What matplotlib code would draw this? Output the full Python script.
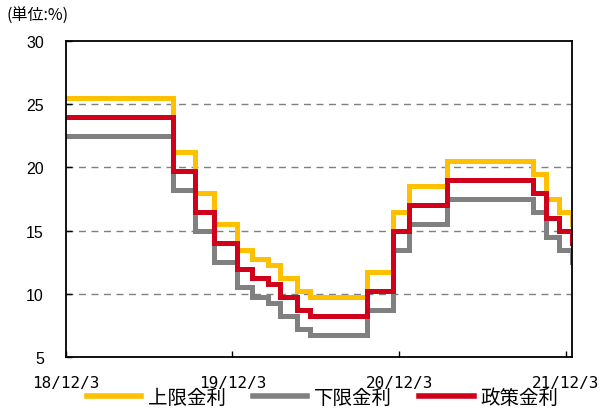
"""Turkey policy rate corridor, step chart."""

import matplotlib
import numpy as np
import pandas as pd

matplotlib.use("Agg")
import matplotlib.pyplot as plt

plt.rcParams["font.family"] = ["Noto Sans CJK JP", "DejaVu Sans"]

# step change dates and values (%)
dates = ["2018-12-03", "2019-07-25", "2019-09-12", "2019-10-24", "2019-12-12",
         "2020-01-16", "2020-02-19", "2020-03-17", "2020-04-22", "2020-05-21",
         "2020-09-24", "2020-11-19", "2020-12-24", "2021-03-18", "2021-09-23",
         "2021-10-21", "2021-11-18", "2021-12-16", "2021-12-17"]
upper = [25.5, 21.25, 18.0, 15.5, 13.5, 12.75, 12.25, 11.25, 10.25, 9.75,
         11.75, 16.5, 18.5, 20.5, 19.5, 17.5, 16.5, 15.5, 15.5]
lower = [22.5, 18.25, 15.0, 12.5, 10.5, 9.75, 9.25, 8.25, 7.25, 6.75,
         8.75, 13.5, 15.5, 17.5, 16.5, 14.5, 13.5, 12.5, 12.5]
policy = [24.0, 19.75, 16.5, 14.0, 12.0, 11.25, 10.75, 9.75, 8.75, 8.25,
          10.25, 15.0, 17.0, 19.0, 18.0, 16.0, 15.0, 14.0, 14.0]

tick_dates = ["2018-12-03", "2019-12-03", "2020-12-03", "2021-12-03"]
tick_labels = ["18/12/3", "19/12/3", "20/12/3", "21/12/3"]
series_names = ["上限金利", "下限金利", "政策金利"]
colors = ["#FFC000", "#808080", "#D0021B"]

x = pd.to_datetime(dates)

fig = plt.figure(figsize=(6.03, 4.14), dpi=100)
ax = fig.add_axes([0.1095, 0.1353, 0.8391, 0.7633])

for vals, name, c in zip([upper, lower, policy], series_names, colors):
    ax.step(x, vals, where="post", color=c, lw=3.6, label=name,
            solid_joinstyle="miter")

ax.set_xlim(pd.Timestamp("2018-12-03"), pd.Timestamp("2021-12-17"))
ax.set_ylim(5, 30)
ax.set_yticks(np.arange(5, 31, 5))
ax.set_yticklabels([str(v) for v in range(5, 31, 5)], family="Liberation Sans",
                   fontsize=11.5)
ax.set_xticks(pd.to_datetime(tick_dates))
ax.set_xticklabels(tick_labels, family="DejaVu Sans Mono", fontsize=11.5)
ax.tick_params(direction="in", length=4, width=1)
ax.tick_params(axis="y", pad=16)
ax.tick_params(axis="x", pad=13)

for yv in [10, 15, 20, 25]:
    ax.axhline(yv, color="#808080", lw=1, ls=(0, (5, 4)), zorder=0)

for s in ax.spines.values():
    s.set_linewidth(1.3)

fig.text(0.01, 0.96, "(単位:%)", fontsize=11.5, va="center")

leg = fig.legend(loc="center", bbox_to_anchor=(0.535, 0.038), ncol=3,
                 frameon=False, fontsize=14, handlelength=2.8,
                 columnspacing=1.4, handletextpad=0.35)
for h in leg.get_lines():
    h.set_linewidth(4)

fig.savefig("out.png", dpi=100)
plt.close(fig)
